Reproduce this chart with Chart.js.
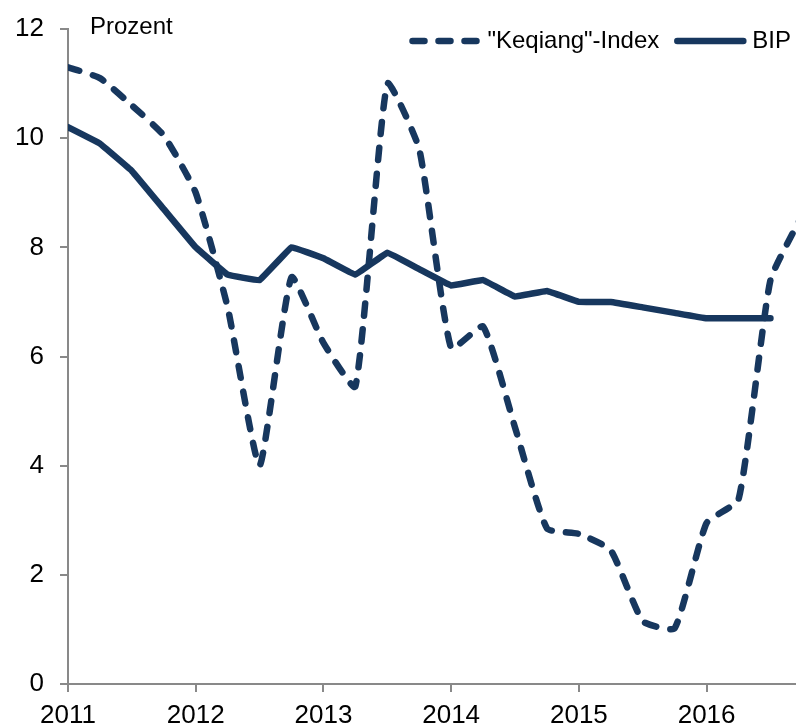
<!DOCTYPE html>
<html>
<head>
<meta charset="utf-8">
<script src="https://cdn.jsdelivr.net/npm/chart.js@4.4.1/dist/chart.umd.min.js"></script>
<style>
  body { margin: 0; background: #fff; }
  canvas { display: block; }
</style>
</head>
<body>
<canvas id="myChart" width="796" height="728"></canvas>
<script>
// data
const quarters = [
  '2011Q1', '2011Q2', '2011Q3', '2011Q4',
  '2012Q1', '2012Q2', '2012Q3', '2012Q4',
  '2013Q1', '2013Q2', '2013Q3', '2013Q4',
  '2014Q1', '2014Q2', '2014Q3', '2014Q4',
  '2015Q1', '2015Q2', '2015Q3', '2015Q4',
  '2016Q1', '2016Q2', '2016Q3', '2016Q4'
];
const keqiang = [
  11.3, 11.1, 10.6, 10.05,
  9.0, 6.9, 4.0, 7.45,
  6.25, 5.45, 11.0, 9.8,
  6.15, 6.55, 4.7, 2.85,
  2.75, 2.45, 1.15, 1.02,
  2.95, 3.38, 7.4, 8.6
];
const bip = [
  10.2, 9.9, 9.4, 8.7,
  8.0, 7.5, 7.4, 8.0,
  7.8, 7.5, 7.9, 7.6,
  7.3, 7.4, 7.1, 7.2,
  7.0, 7.0, 6.9, 6.8,
  6.7, 6.7, 6.7
];
const yearTicks = [2011, 2012, 2013, 2014, 2015, 2016];
const unitLabel = 'Prozent';

const navy = '#17375e';
const axisGray = '#898989';
const fontFamily = '"Liberation Sans", Arial, sans-serif';

// '2013Q3' -> 2013.5
function quarterToX(q) {
  return parseInt(q.slice(0, 4)) + (parseInt(q.slice(5)) - 1) / 4;
}

function toPoints(values) {
  return values.map((v, i) => ({ x: quarterToX(quarters[i]), y: v }));
}

// legend + unit label drawn inside the plot area
const overlay = {
  id: 'overlay',
  afterDatasetsDraw(chart) {
    const { ctx, chartArea } = chart;
    ctx.save();
    ctx.font = '24px ' + fontFamily;
    ctx.fillStyle = '#000';

    ctx.textBaseline = 'alphabetic';
    ctx.textAlign = 'left';
    ctx.fillText(unitLabel, chartArea.left + 22, chartArea.top + 5);

    ctx.textBaseline = 'middle';
    const y = chartArea.top + 12;
    let x = chartArea.right - 5;
    chart.data.datasets.slice().reverse().forEach(ds => {
      const w = ctx.measureText(ds.label).width;
      x -= w;
      ctx.fillStyle = '#000';
      ctx.fillText(ds.label, x, y);
      x -= 9;
      ctx.beginPath();
      ctx.lineWidth = ds.borderWidth;
      ctx.strokeStyle = ds.borderColor;
      ctx.lineCap = 'round';
      ctx.setLineDash(ds.borderDash || []);
      ctx.moveTo(x - 66, y);
      ctx.lineTo(x, y);
      ctx.stroke();
      x -= 66 + 18;
    });
    ctx.restore();
  }
};

const data = {
  datasets: [{
    label: '"Keqiang"-Index',
    data: toPoints(keqiang),
    borderColor: navy,
    borderWidth: 6.5,
    borderDash: [12, 14],
    borderCapStyle: 'round',
    borderJoinStyle: 'round',
    pointRadius: 0,
    tension: 0.15
  }, {
    label: 'BIP',
    data: toPoints(bip),
    borderColor: navy,
    borderWidth: 6.5,
    borderCapStyle: 'round',
    borderJoinStyle: 'round',
    pointRadius: 0,
    tension: 0.05
  }]
};

const tickFont = { family: fontFamily, size: 26, lineHeight: 1 };

const config = {
  type: 'line',
  data,
  options: {
    responsive: false,
    animation: false,
    devicePixelRatio: 1,
    layout: { padding: { left: 0, top: 23, right: 0, bottom: 0 } },
    plugins: {
      legend: { display: false },
      tooltip: { enabled: false }
    },
    scales: {
      x: {
        type: 'linear',
        min: 2011,
        max: 2016.7,
        afterBuildTicks: scale => { scale.ticks = yearTicks.map(v => ({ value: v })); },
        afterFit: scale => { scale.height = 44; },
        ticks: {
          color: '#000',
          padding: 11,
          maxRotation: 0,
          font: tickFont,
          callback: v => String(v)
        },
        grid: { drawOnChartArea: false, drawTicks: true, tickLength: 8, color: axisGray, lineWidth: 2 },
        border: { color: axisGray, width: 2 }
      },
      y: {
        min: 0,
        max: 12,
        afterFit: scale => { scale.width = 68; },
        ticks: {
          stepSize: 2,
          color: '#000',
          padding: 16,
          font: tickFont
        },
        grid: { drawOnChartArea: false, drawTicks: true, tickLength: 8, color: axisGray, lineWidth: 2 },
        border: { color: axisGray, width: 2 }
      }
    }
  },
  plugins: [overlay]
};

const myChart = new Chart(document.getElementById('myChart'), config);
</script>
</body>
</html>
